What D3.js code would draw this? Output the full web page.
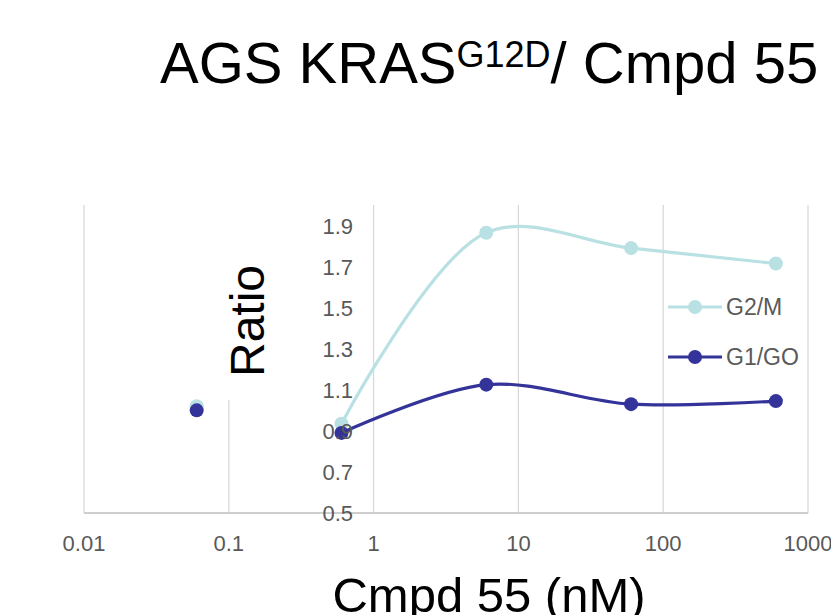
<!DOCTYPE html>
<html>
<head>
<meta charset="utf-8">
<script src="https://cdn.jsdelivr.net/npm/d3@7"></script>
<style>
  body { margin: 0; background: #fff; }
  svg { display: block; font-family: "Liberation Sans", Arial, sans-serif; }
</style>
</head>
<body>
<svg width="831" height="615"></svg>
<script>
// data
const doses = [0.06, 0.6, 6, 60, 600];
const g2m = [1.02, 0.935, 1.865, 1.79, 1.715];
const g1g0 = [1.0, 0.89, 1.125, 1.03, 1.045];
const seriesNames = ["G2/M", "G1/GO"];
const seriesColors = ["#b9e0e3", "#333399"];
const xTicks = [0.01, 0.1, 1, 10, 100, 1000];
const yTicks = [0.5, 0.7, 0.9, 1.1, 1.3, 1.5, 1.7, 1.9];

const svg = d3.select("svg");
const x = d3.scaleLog().domain([0.01, 1000]).range([84, 808]);
const y = d3.scaleLinear().domain([0.5, 2.0]).range([513, 205]);

// vertical gridlines
svg.append("g").selectAll("line").data(xTicks)
  .enter().append("line")
  .attr("x1", d => x(d)).attr("x2", d => x(d))
  .attr("y1", y(2.0)).attr("y2", y(0.5))
  .attr("stroke", "#d9d9d9").attr("stroke-width", 1.3);

// x axis line
svg.append("line")
  .attr("x1", x(0.01)).attr("x2", x(1000))
  .attr("y1", y(0.5)).attr("y2", y(0.5))
  .attr("stroke", "#bfbfbf").attr("stroke-width", 1.3);

// x tick labels
svg.append("g").selectAll("text").data(xTicks)
  .enter().append("text")
  .attr("x", d => x(d)).attr("y", 551)
  .attr("text-anchor", "middle")
  .attr("font-size", 22).attr("fill", "#595959")
  .text(d => d3.format("")(d));

// y axis title with white box (hides part of the 0.1 gridline)
svg.append("rect").attr("x", 214).attr("y", 205).attr("width", 58).attr("height", 195).attr("fill", "#fff");
svg.append("text")
  .attr("transform", "translate(264,321) rotate(-90)")
  .attr("text-anchor", "middle")
  .attr("font-size", 48).attr("fill", "#000")
  .text("Ratio");

// lines (the first dose stands alone, not joined)
const line = d3.line()
  .x(d => x(d[0])).y(d => y(d[1]))
  .curve(d3.curveCatmullRom.alpha(0.5));

[g2m, g1g0].forEach((vals, i) => {
  const pts = doses.map((d, j) => [d, vals[j]]);
  svg.append("path")
    .datum(pts.slice(1))
    .attr("d", line)
    .attr("fill", "none")
    .attr("stroke", seriesColors[i])
    .attr("stroke-width", 3.2)
    .attr("stroke-linecap", "round");
  svg.append("g").selectAll("circle").data(pts)
    .enter().append("circle")
    .attr("cx", d => x(d[0])).attr("cy", d => y(d[1]))
    .attr("r", 7)
    .attr("fill", seriesColors[i]);
});

// y tick labels drawn over the plot, at x = 1
svg.append("g").selectAll("text").data(yTicks)
  .enter().append("text")
  .attr("x", 353).attr("y", d => y(d) + 8)
  .attr("text-anchor", "end")
  .attr("font-size", 22).attr("fill", "#595959")
  .text(d => d.toFixed(1));

// legend
seriesNames.forEach((name, i) => {
  const ly = 307 + i * 50;
  svg.append("line")
    .attr("x1", 668).attr("x2", 722).attr("y1", ly).attr("y2", ly)
    .attr("stroke", seriesColors[i]).attr("stroke-width", 3.2);
  svg.append("circle").attr("cx", 695).attr("cy", ly).attr("r", 7).attr("fill", seriesColors[i]);
  svg.append("text")
    .attr("x", 726).attr("y", ly + 8)
    .attr("font-size", 23).attr("fill", "#595959")
    .text(name);
});

// title
const title = svg.append("text")
  .attr("x", 160).attr("y", 83)
  .attr("font-size", 58).attr("fill", "#000");
title.append("tspan").text("AGS KRAS");
title.append("tspan").attr("font-size", 36).attr("dy", -16).text("G12D");
title.append("tspan").attr("dy", 16).text("/ Cmpd 55");

// x axis title
svg.append("text")
  .attr("x", 489).attr("y", 612)
  .attr("text-anchor", "middle")
  .attr("font-size", 49).attr("fill", "#000")
  .text("Cmpd 55 (nM)");
</script>
</body>
</html>
